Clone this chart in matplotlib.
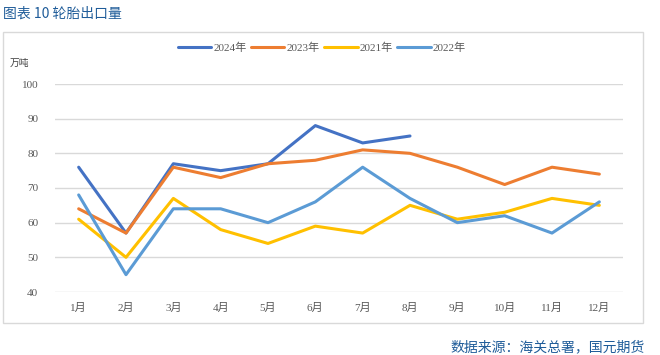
import matplotlib
matplotlib.use('Agg')
import matplotlib.pyplot as plt
from matplotlib.patches import Rectangle

months = ['1月', '2月', '3月', '4月', '5月', '6月', '7月', '8月', '9月', '10月', '11月', '12月']
y2024 = [76, 57, 77, 75, 77, 88, 83, 85]
y2023 = [64, 57, 76, 73, 77, 78, 81, 80, 76, 71, 76, 74]
y2021 = [61, 50, 67, 58, 54, 59, 57, 65, 61, 63, 67, 65]
y2022 = [68, 45, 64, 64, 60, 66, 76, 67, 60, 62, 57, 66]
yticks = [40, 50, 60, 70, 80, 90, 100]

serif = ['Liberation Serif', 'Noto Sans CJK SC']
cjk = ['Noto Sans CJK SC', 'DejaVu Sans']

fig = plt.figure(figsize=(6.6, 3.55), dpi=100)
fig.patches.append(Rectangle((3/660, 1-323/355), 640/660, 291/355, transform=fig.transFigure,
                             fill=False, edgecolor='#d9d9d9', lw=1))
ax = fig.add_axes([55/660, 1-292/355, 568/660, 208/355])

x = list(range(1, 13))
series = [('2024年', y2024, '#4472C4'), ('2023年', y2023, '#ED7D31'),
          ('2021年', y2021, '#FFC000'), ('2022年', y2022, '#5B9BD5')]
for name, vals, c in series:
    ax.plot(x[:len(vals)], vals, color=c, lw=2.2, label=name, solid_capstyle='round')

ax.set_xlim(0.5, 12.5)
ax.set_ylim(40, 100)
ax.set_yticks(yticks)
ax.set_xticks(x)
ax.set_xticklabels(months, family=serif, fontsize=8, color='#595959')
ax.set_yticklabels([str(v) for v in yticks], family=serif, fontsize=8, color='#595959')
ax.grid(axis='y', color='#d9d9d9', lw=1)
ax.set_axisbelow(True)
for s in ax.spines.values():
    s.set_visible(False)
ax.tick_params(length=0, pad=12)
ax.tick_params(axis='x', pad=8)

leg = fig.legend(loc='center', bbox_to_anchor=(322/660, 1-48/355), ncol=4, frameon=False,
                 prop={'family': serif, 'size': 8}, handlelength=3, handletextpad=0.2,
                 columnspacing=0.4)
for t in leg.get_texts():
    t.set_color('#595959')

fig.text(10/660, 1-63/355, '万吨', family=cjk, fontsize=7, color='#404040', va='center')
fig.text(3/660, 1-14/355, '图表 10 轮胎出口量', family=cjk, fontsize=10, color='#1F5C99', va='center')
fig.text(645/660, 1-347/355, '数据来源：海关总署，国元期货', family=cjk, fontsize=10,
         color='#1F5C99', va='center', ha='right')

fig.savefig('out.png', dpi=100)
